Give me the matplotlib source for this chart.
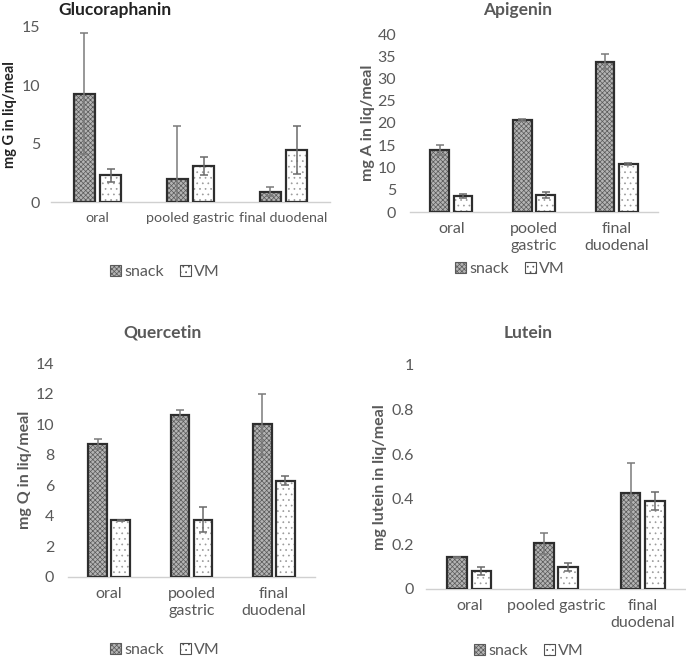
import numpy as np
import matplotlib
matplotlib.use('Agg')
import matplotlib.pyplot as plt
from matplotlib.patches import Patch

plt.rcParams['font.family'] = ['Lato', 'DejaVu Sans']
plt.rcParams['hatch.linewidth'] = 0.5

#%% data
gluc_cats = ['oral', 'pooled gastric', 'final duodenal']
gluc_snack = [9.3, 2.0, 0.9]
gluc_snack_err = [5.2, 4.5, 0.35]
gluc_vm = [2.3, 3.1, 4.45]
gluc_vm_err = [0.55, 0.75, 2.05]

api_cats = ['oral', 'pooled\ngastric', 'final\nduodenal']
api_snack = [13.9, 20.7, 33.8]
api_snack_err = [1.1, 0.3, 1.6]
api_vm = [3.7, 3.8, 10.7]
api_vm_err = [0.45, 0.75, 0.25]

quer_cats = ['oral', 'pooled\ngastric', 'final\nduodenal']
quer_snack = [8.7, 10.6, 10.0]
quer_snack_err = [0.3, 0.3, 2.0]
quer_vm = [3.7, 3.75, 6.3]
quer_vm_err = [0.04, 0.8, 0.3]

lut_cats = ['oral', 'pooled gastric', 'final\nduodenal']
lut_snack = [0.141, 0.204, 0.425]
lut_snack_err = [0.003, 0.047, 0.135]
lut_vm = [0.080, 0.098, 0.391]
lut_vm_err = [0.018, 0.018, 0.04]

#%% style
TXT = '#595959'
EDGE = '#2e2e2e'
SNACK_FACE, SNACK_HATCH = '#b4b4b4', '#5a5a5a'
VM_FACE, VM_HATCH = 'white', '#9a9a9a'
W, OFF = 0.225, 0.14
FS = 11.5

fig = plt.figure(figsize=(6.86, 6.6), dpi=100)

def px_axes(left, right, top, bottom):
    return fig.add_axes([left/686, 1-bottom/660, (right-left)/686, (bottom-top)/660])

def panel(ax, cats, snack, snack_err, vm, vm_err, ymax, step, fmt, pad, xfs=FS):
    x = np.arange(len(cats))
    ax.bar(x-OFF, snack, W, color=SNACK_FACE, edgecolor=SNACK_HATCH, hatch='xxxxxxx', linewidth=0, zorder=2)
    ax.bar(x-OFF, snack, W, fill=False, edgecolor=EDGE, linewidth=1.6, zorder=3)
    ax.bar(x+OFF, vm, W, color=VM_FACE, edgecolor=VM_HATCH, hatch='...', linewidth=0, zorder=2)
    ax.bar(x+OFF, vm, W, fill=False, edgecolor=EDGE, linewidth=1.6, zorder=3)
    ax.errorbar(x-OFF, snack, yerr=snack_err, fmt='none', ecolor='#7a7a7a', elinewidth=1.1, capsize=3, capthick=1.1, zorder=4)
    ax.errorbar(x+OFF, vm, yerr=vm_err, fmt='none', ecolor='#6a6a6a', elinewidth=1.1, capsize=3, capthick=1.1, zorder=4)
    ax.set_xlim(-0.5, len(cats)-0.5)
    ax.set_ylim(0, ymax)
    ticks = np.arange(0, ymax+step/2, step)
    ax.set_yticks(ticks)
    ax.set_yticklabels([fmt(t) for t in ticks])
    ax.set_xticks(x)
    ax.set_xticklabels(cats, linespacing=1.3)
    for s in ['top', 'right', 'left']:
        ax.spines[s].set_visible(False)
    ax.spines['bottom'].set_color('#d0d0d0')
    ax.spines['bottom'].set_linewidth(1.0)
    ax.tick_params(axis='both', length=0, colors=TXT, labelsize=FS)
    ax.tick_params(axis='x', labelsize=xfs, pad=7)
    ax.tick_params(axis='y', pad=pad)
    ax.set_facecolor('none')

def legend(xc, yc):
    h = [Patch(facecolor=SNACK_FACE, edgecolor=SNACK_HATCH, hatch='xxxxxxx', linewidth=0.8),
         Patch(facecolor=VM_FACE, edgecolor='#505050', hatch='...', linewidth=0.8)]
    fig.legend(h, ['snack', 'VM'], loc='center', bbox_to_anchor=(xc/686, 1-yc/660), ncol=2,
               frameon=False, fontsize=FS, labelcolor=TXT, handlelength=0.7, handleheight=0.7,
               handletextpad=0.2, columnspacing=1.0)

ax1 = px_axes(51, 330, 27, 202)
panel(ax1, gluc_cats, gluc_snack, gluc_snack_err, gluc_vm, gluc_vm_err, 15, 5, lambda t: '%d' % t, 8, xfs=10.3)
ax2 = px_axes(410, 658, 34, 212)
panel(ax2, api_cats, api_snack, api_snack_err, api_vm, api_vm_err, 40, 5, lambda t: '%d' % t, 10)
ax3 = px_axes(68, 315, 363, 577)
panel(ax3, quer_cats, quer_snack, quer_snack_err, quer_vm, quer_vm_err, 14, 2, lambda t: '%d' % t, 10)
ax4 = px_axes(426, 686, 364, 589)
panel(ax4, lut_cats, lut_snack, lut_snack_err, lut_vm, lut_vm_err, 1.0, 0.2, lambda t: ('%g' % round(t, 1)), 9)

# titles
fig.text(115/686, 1-10/660, 'Glucoraphanin', ha='center', va='center', fontsize=12.5, fontweight='bold', color='#222222')
fig.text(518/686, 1-10/660, 'Apigenin', ha='center', va='center', fontsize=12.5, fontweight='bold', color=TXT)
fig.text(163/686, 1-333/660, 'Quercetin', ha='center', va='center', fontsize=12.5, fontweight='bold', color=TXT)
fig.text(528/686, 1-333/660, 'Lutein', ha='center', va='center', fontsize=12.5, fontweight='bold', color=TXT)

# y labels
fig.text(10/686, 1-115/660, 'mg G in liq/meal', rotation=90, ha='center', va='center', fontsize=10.5, fontweight='bold', color='#222222')
fig.text(368/686, 1-123/660, 'mg A in liq/meal', rotation=90, ha='center', va='center', fontsize=11.5, fontweight='bold', color=TXT)
fig.text(25/686, 1-470/660, 'mg Q in liq/meal', rotation=90, ha='center', va='center', fontsize=11.5, fontweight='bold', color=TXT)
fig.text(380/686, 1-477/660, 'mg lutein in liq/meal', rotation=90, ha='center', va='center', fontsize=11.5, fontweight='bold', color=TXT)

legend(165, 272)
legend(510, 269)
legend(165, 650)
legend(529, 651)

fig.savefig('out.png', dpi=100)
